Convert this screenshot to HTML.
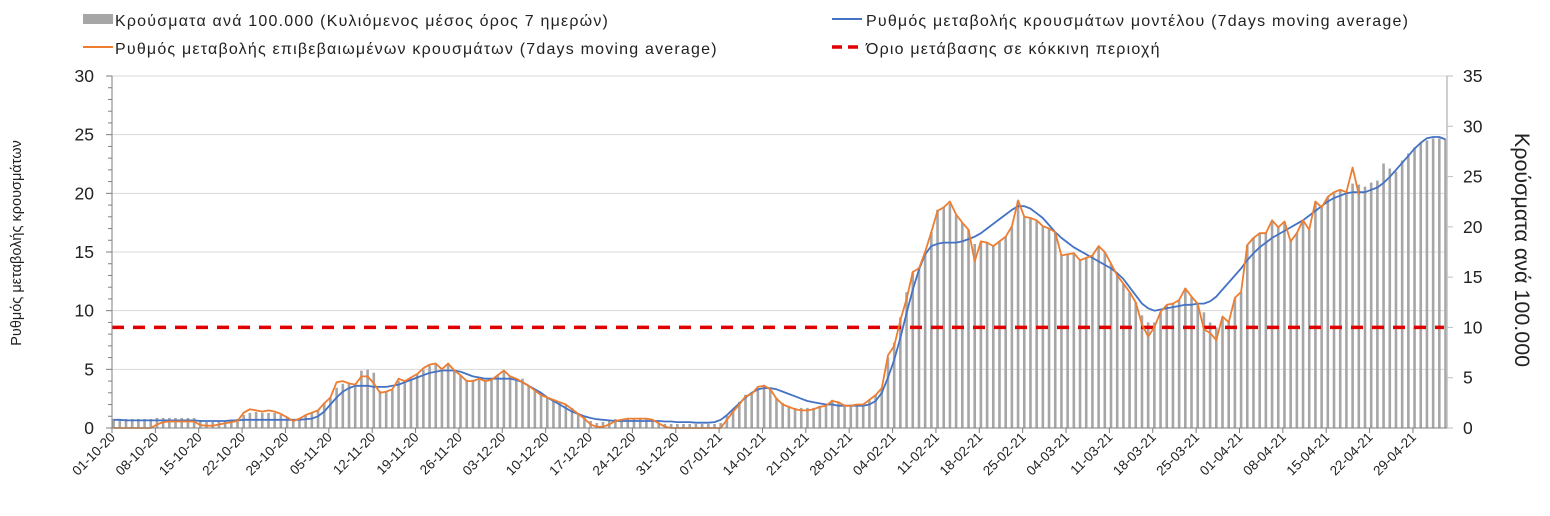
<!DOCTYPE html>
<html><head><meta charset="utf-8"><style>
body{margin:0;background:#fff;}
svg text{font-family:"Liberation Sans","DejaVu Sans",sans-serif;fill:#222;}
.lg{font-size:16px;letter-spacing:1.2px;}
</style></head><body>
<svg id="chart" width="1550" height="511" xmlns="http://www.w3.org/2000/svg">
<g id="legend">
 <g><rect x="83" y="14" width="30" height="10" fill="#a6a6a6"/><text class="lg" x="115" y="26">Κρούσματα ανά 100.000 (Κυλιόμενος μέσος όρος 7 ημερών)</text></g>
 <g><line x1="83" y1="47" x2="113" y2="47" stroke="#ed7d31" stroke-width="2"/><text class="lg" x="115" y="54">Ρυθμός μεταβολής επιβεβαιωμένων κρουσμάτων (7days moving average)</text></g>
 <g><line x1="832" y1="19" x2="862" y2="19" stroke="#4472c4" stroke-width="2"/><text class="lg" x="866" y="26">Ρυθμός μεταβολής κρουσμάτων μοντέλου (7days moving average)</text></g>
 <g><line x1="832" y1="47" x2="862" y2="47" stroke="#e00000" stroke-width="3.5" stroke-dasharray="10,6"/><text class="lg" x="866" y="54">Όριο μετάβασης σε κόκκινη περιοχή</text></g>
</g>
<text transform="translate(21,243) rotate(-90)" text-anchor="middle" font-size="14.5">Ρυθμός μεταβολής κρουσμάτων</text>
<text transform="translate(1515,250) rotate(90)" text-anchor="middle" font-size="21.5">Κρούσματα ανά 100.000</text>
<g id="grid"></g><g id="bars"></g><g id="lines"></g><g id="axes"></g>
</svg>
<script>
const bars=[0.9,0.9,0.9,0.9,0.9,0.9,0.9, 1.0,1.0,1.0,1.0,1.0,1.0,1.0, 0.8,0.6,0.6,0.7,0.7,0.8,0.9, 1.3,1.5,1.6,1.5,1.5,1.5,1.3, 1.1,0.9,0.9,1.2,1.5,1.8,2.5,
3.0,4.0,4.4,4.4,4.4,5.7,5.8, 5.5,3.7,3.6,3.8,4.7,4.7,4.9, 5.4,5.8,6.2,6.3,6.0,6.3,5.7, 5.2,4.8,4.8,4.9,4.7,4.8,5.3, 5.6,5.2,4.9,4.9,4.2,3.8,3.3,
3.0,2.8,2.5,2.3,2.0,1.5,1.1, 0.7,0.5,0.6,0.8,0.9,0.9,0.9, 0.9,0.9,0.9,0.6,0.5,0.4,0.4, 0.4,0.4,0.4,0.4,0.4,0.4,0.4, 0.5,1.2,1.9,2.6,3.3,3.5,3.9,
4.3,3.9,3.0,2.5,2.1,2.0,2.0, 2.0,2.0,2.2,2.3,2.8,2.6,2.3, 2.3,2.4,2.4,2.8,3.3,4.0,7.0, 8.5,11,13.5,15.5,16,17.5,19.5, 21.7,22,22.3,21.2,20.4,19.7,18.3,
18.5,18.5,18.2,18.6,19,20,22.6, 21,20.9,20.6,20,19.8,19.5,17.2, 17.3,17.4,16.7,16.9,17.2,18,17.5, 16.3,15.2,14.3,13.5,12.5,11.2,10.5, 10.5,11.5,12.2,12.4,12.7,13.9,13,
12.4,11.5,10.5,10,11,10.6,12.9, 13.5,18.2,18.9,19.4,19.4,20.6,20, 20.5,18.6,19.4,20.6,19.7,22.5,21.9, 23,23.5,23.7,23.5,24.3,24.2,24.0, 24.4,24.6,26.3,25.8,25.5,26.6,27.3,
27.9,28.4,28.6,28.8,28.8,28.7];
const confirmedRate=[0,0,0,0,0,0,0, 0.3,0.5,0.55,0.55,0.55,0.55,0.55, 0.25,0.2,0.2,0.3,0.4,0.5,0.6, 1.3,1.6,1.5,1.4,1.5,1.4,1.2, 0.9,0.6,0.8,1.1,1.3,1.5,2.1,
2.6,3.9,4.0,3.8,3.7,4.4,4.4, 3.8,3.0,3.1,3.3,4.2,4.0,4.3, 4.6,5.1,5.4,5.5,5.0,5.5,4.9, 4.5,4.0,4.0,4.2,4.0,4.1,4.5, 4.9,4.4,4.2,3.9,3.6,3.2,2.8,
2.6,2.4,2.2,2.0,1.6,1.2,0.8, 0.3,0.1,0.1,0.3,0.6,0.7,0.8, 0.8,0.8,0.8,0.7,0.4,0.1,0, 0,0,0,0,0,0,0, 0,0.7,1.4,2.0,2.7,2.9,3.5,
3.6,3.3,2.5,2.0,1.8,1.6,1.5, 1.5,1.6,1.8,1.9,2.3,2.2,1.9, 1.9,2.0,2.0,2.4,2.8,3.4,6.2, 7.0,9.2,11.0,13.3,13.6,15.0,16.7, 18.5,18.8,19.3,18.2,17.5,16.9,14.2,
15.9,15.8,15.5,15.9,16.3,17.2,19.4, 18.0,17.9,17.7,17.2,17.0,16.7,14.7, 14.8,14.9,14.3,14.5,14.7,15.5,15.0, 14.0,13.0,12.3,11.6,10.7,8.8,7.8, 8.6,9.9,10.5,10.6,10.9,11.9,11.2,
10.6,8.4,8.1,7.5,9.5,9.0,11.1, 11.6,15.6,16.2,16.6,16.6,17.7,17.1, 17.6,15.9,16.6,17.7,16.9,19.3,18.8, 19.7,20.1,20.3,20.1,22.2,19.9];
const modelRate=[0.7,0.7,0.65,0.65,0.65,0.65,0.65, 0.65,0.65,0.65,0.65,0.65,0.65,0.65, 0.6,0.6,0.6,0.6,0.6,0.65,0.65, 0.7,0.7,0.7,0.7,0.7,0.7,0.7, 0.7,0.7,0.7,0.75,0.8,
1.0,1.4,2.0,2.6,3.1,3.4,3.6, 3.6,3.6,3.5,3.5,3.5,3.6,3.7, 3.9,4.1,4.3,4.5,4.7,4.8,4.9, 4.9,4.9,4.8,4.6,4.4,4.3,4.2, 4.2,4.2,4.2,4.2,4.1,3.9,3.6,
3.3,3.0,2.6,2.3,2.0,1.7,1.4, 1.2,1.0,0.85,0.75,0.7,0.65,0.6, 0.6,0.6,0.6,0.6,0.6,0.6,0.6, 0.55,0.55,0.5,0.5,0.5,0.45,0.45,0.45,0.5,
0.7,1.1,1.6,2.1,2.6,3.0,3.3, 3.4,3.4,3.3,3.1,2.9,2.7,2.5, 2.3,2.2,2.1,2.0,2.0,1.9,1.9, 1.9,1.9,1.9,2.0,2.3,3.0,4.3, 5.8,7.7,9.8,11.8,13.5,14.8,15.5,
15.7,15.8,15.8,15.8,15.9,16.1,16.3, 16.6,17.0,17.4,17.8,18.2,18.6,18.9, 18.9,18.7,18.3,17.9,17.3,16.7,16.2, 15.8,15.4,15.1,14.8,14.5,14.2,13.9,
13.6,13.2,12.7,12.0,11.3,10.6,10.2, 10.0,10.1,10.2,10.3,10.4,10.5,10.5, 10.6,10.6,10.8,11.2,11.8,12.4,13.0, 13.6,14.3,14.9,15.4,15.8,16.2,16.5,
16.8,17.1,17.4,17.7,18.1,18.5,18.9, 19.3,19.6,19.8,20.0,20.1,20.1,20.1, 20.3,20.5,20.9,21.4,22.0,22.6,23.2, 23.8,24.3,24.7,24.8,24.8,24.6];
const redThreshold=10; // right axis units
const xTickLabels=["01-10-20","08-10-20","15-10-20","22-10-20","29-10-20","05-11-20","12-11-20","19-11-20","26-11-20","03-12-20","10-12-20","17-12-20","24-12-20","31-12-20","07-01-21","14-01-21","21-01-21","28-01-21","04-02-21","11-02-21","18-02-21","25-02-21","04-03-21","11-03-21","18-03-21","25-03-21","01-04-21","08-04-21","15-04-21","22-04-21","29-04-21"];
const leftTicks=[0,5,10,15,20,25,30];
const rightTicks=[0,5,10,15,20,25,30,35];

const NS="http://www.w3.org/2000/svg";
const X0=112,STEP=6.195,Y0=428,YTOP=76,XR=1447;
const xDay=d=>X0+STEP*d;
const xBar=i=>X0+1.6+STEP*i;
const yL=v=>Y0-(Y0-YTOP)*v/30;
const yR=v=>Y0-(Y0-YTOP)*v/35;
function mk(tag,attrs,parent){const e=document.createElementNS(NS,tag);for(const k in attrs)e.setAttribute(k,attrs[k]);parent.appendChild(e);return e;}
const G=document.getElementById('grid'),B=document.getElementById('bars'),L=document.getElementById('lines'),A=document.getElementById('axes');
leftTicks.forEach(t=>{if(t>0){const g=mk('line',{x1:X0,x2:XR,y1:yL(t),y2:yL(t),stroke:'#d9d9d9','stroke-width':1},G);

}});
bars.forEach((v,i)=>{const r=mk('rect',{x:xBar(i)-1.3,y:yR(v),width:2.6,height:Y0-yR(v),fill:'#a6a6a6'},B);

});
function pts(arr){return arr.map((v,i)=>xBar(i).toFixed(1)+','+yL(v).toFixed(1)).join(' ');}
const th=mk('line',{x1:X0,x2:XR-3,y1:yR(redThreshold),y2:yR(redThreshold),stroke:'#e00000','stroke-width':3.5,'stroke-dasharray':'12,9'},L);


const bl=mk('polyline',{points:pts(modelRate),fill:'none',stroke:'#4472c4','stroke-width':1.8,'stroke-linejoin':'round'},L);


const ol=mk('polyline',{points:pts(confirmedRate),fill:'none',stroke:'#ed7d31','stroke-width':1.8,'stroke-linejoin':'round'},L);


const la=mk('line',{x1:X0,x2:X0,y1:YTOP,y2:Y0,stroke:'#7f7f7f'},A);


const ra=mk('line',{x1:XR,x2:XR,y1:YTOP,y2:Y0,stroke:'#bfbfbf','stroke-width':1.5},A);


const xa=mk('line',{x1:X0,x2:XR,y1:Y0,y2:Y0,stroke:'#7f7f7f'},A);


for(let v=0;v<=30;v++){mk('line',{x1:X0-(v%5?4:6),x2:X0,y1:yL(v),y2:yL(v),stroke:'#7f7f7f'},A);}
leftTicks.forEach(t=>{const e=mk('text',{x:94,y:yL(t)+6,'text-anchor':'end','font-size':17.5},A);e.textContent=t;

});
rightTicks.forEach(t=>{mk('line',{x1:XR,x2:XR+6,y1:yR(t),y2:yR(t),stroke:'#bfbfbf'},A);
const e=mk('text',{x:1463,y:yR(t)+6,'font-size':17.5,fill:'#555'},A);e.textContent=t;

});
xTickLabels.forEach((lab,k)=>{const x=xDay(k*7);mk('line',{x1:x,x2:x,y1:Y0,y2:Y0+5,stroke:'#7f7f7f'},A);
const e=mk('text',{transform:`translate(${x+4},${Y0+10}) rotate(-45)`,'text-anchor':'end','font-size':13.5},A);e.textContent=lab;

});
</script>
</body></html>
